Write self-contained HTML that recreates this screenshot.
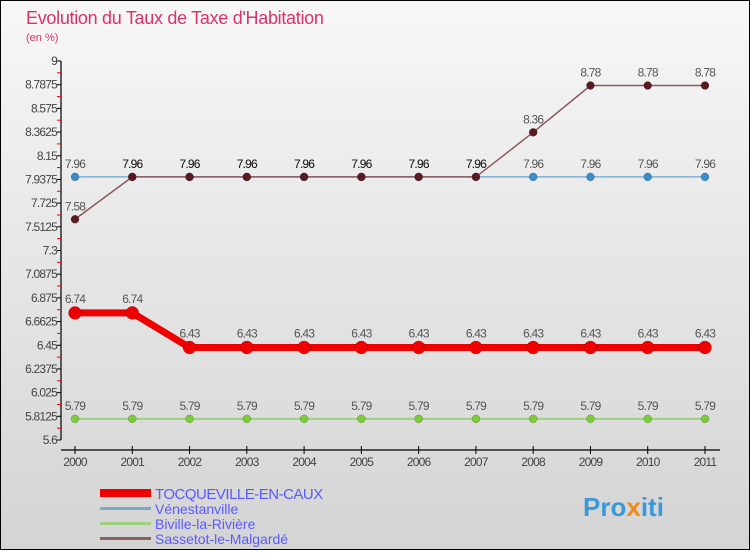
<!DOCTYPE html>
<html><head><meta charset="utf-8"><style>
body{margin:0;width:750px;height:550px;overflow:hidden;font-family:"Liberation Sans",sans-serif}
svg text{font-family:"Liberation Sans",sans-serif}
</style></head><body>
<svg id="c" width="750" height="550" xmlns="http://www.w3.org/2000/svg">
<defs><linearGradient id="bg" x1="0" y1="0" x2="0" y2="1"><stop offset="0" stop-color="#f7f7f7"/><stop offset="1" stop-color="#d4d4d4"/></linearGradient></defs>
<rect x="0.5" y="0.5" width="749" height="549" fill="url(#bg)" stroke="#000"/>
<text x="26" y="24" font-size="18" fill="#d9336a" letter-spacing="-0.3">Evolution du Taux de Taxe d'Habitation</text>
<text x="26" y="41" font-size="11" fill="#d9336a">(en %)</text>
<g id="axes"></g><g id="series"></g>
<g>
<rect x="100" y="489" width="51" height="8" fill="#e00"/>
<text x="155" y="499" font-size="15" fill="#5a5aff" letter-spacing="-0.5">TOCQUEVILLE-EN-CAUX</text>
<rect x="100" y="507" width="51" height="3" fill="#7fa7c9"/>
<text x="155" y="514" font-size="14" fill="#5a5aff">Vénestanville</text>
<rect x="100" y="522" width="51" height="3" fill="#9fd07f"/>
<text x="155" y="529" font-size="14" fill="#5a5aff">Biville-la-Rivière</text>
<rect x="100" y="537" width="51" height="3" fill="#8a6060"/>
<text x="155" y="544" font-size="14" fill="#5a5aff">Sassetot-le-Malgardé</text>
</g>
<text x="583" y="516" font-size="26" font-weight="bold" fill="#3a9ad9">Pro<tspan fill="#f08a1c">x</tspan>iti</text>
</svg>
<script>
const years=["2000","2001","2002","2003","2004","2005","2006","2007","2008","2009","2010","2011"];
const yTicks=["9","8.7875","8.575","8.3625","8.15","7.9375","7.725","7.5125","7.3","7.0875","6.875","6.6625","6.45","6.2375","6.025","5.8125","5.6"];
const tocqueville=[6.74,6.74,6.43,6.43,6.43,6.43,6.43,6.43,6.43,6.43,6.43,6.43];
const venestanville=[7.96,7.96,7.96,7.96,7.96,7.96,7.96,7.96,7.96,7.96,7.96,7.96];
const biville=[5.79,5.79,5.79,5.79,5.79,5.79,5.79,5.79,5.79,5.79,5.79,5.79];
const sassetot=[7.58,7.96,7.96,7.96,7.96,7.96,7.96,7.96,8.36,8.78,8.78,8.78];
const NS="http://www.w3.org/2000/svg";
const yMin=5.6,yMax=9,yTop=61,yBot=440,x0=75,x1=705;
const X=i=>x0+(x1-x0)*i/(years.length-1);
const Y=v=>yBot-(v-yMin)/(yMax-yMin)*(yBot-yTop);
function mk(t,a,p){const e=document.createElementNS(NS,t);for(const k in a)e.setAttribute(k,a[k]);p.appendChild(e);return e;}
const ax=document.getElementById('axes');
let e=mk('line',{x1:61,y1:yTop,x2:61,y2:yBot,stroke:'#000','stroke-width':1.2},ax);


yTicks.forEach((t,i)=>{const v=parseFloat(t),y=Y(v);
 mk('line',{x1:57,y1:y,x2:61,y2:y,stroke:'#000'},ax);
 if(i<yTicks.length-1){const ym=(y+Y(parseFloat(yTicks[i+1])))/2;mk('line',{x1:57,y1:ym,x2:61,y2:ym,stroke:'#e00'},ax);}
 const tx=mk('text',{x:57,y:y+4,'font-size':12,'text-anchor':'end',fill:'#444','letter-spacing':'-0.8'},ax);tx.textContent=t;
 
 
});
e=mk('line',{x1:61,y1:450,x2:720,y2:450,stroke:'#000','stroke-width':1.2},ax);


years.forEach((yr,i)=>{const x=X(i);mk('line',{x1:x,y1:446,x2:x,y2:454,stroke:'#000'},ax);
 const tx=mk('text',{x:x,y:466,'font-size':12,'text-anchor':'middle',fill:'#444','letter-spacing':'-0.8'},ax);tx.textContent=yr;
 
 
});
const sg=document.getElementById('series');
function series(name,data,line,dot,w,r,lab,dy){
 const g=mk('g',{},sg);
 
 
 mk('polyline',{points:data.map((v,i)=>X(i)+','+Y(v)).join(' '),fill:'none',stroke:line,'stroke-width':w},g);
 data.forEach((v,i)=>{const c=mk('circle',{cx:X(i),cy:Y(v),r:r,fill:dot,stroke:'rgba(0,0,0,0.3)','stroke-width':0.5},g);
  
  
  if(lab){const t=mk('text',{x:X(i),y:Y(v)-dy,'font-size':12,'text-anchor':'middle',fill:lab(i),'letter-spacing':'-0.8'},g);t.textContent=String(v);
  
  }
 });
}
series('series-biville',biville,'#9fd07f','#7ccc3a',2,4,()=>'#555',9);
series('series-venestanville',venestanville,'#7fb0d9','#3a8ccc',1.5,4,i=>'#555',9);
series('series-sassetot',sassetot,'#8a5a5a','#5a1a22',1.5,4,i=>(i>0&&i<8)?'#222':'#555',9);
series('series-tocqueville',tocqueville,'#e00','#e00',7,6.5,()=>'#555',10);
</script>
</body></html>
